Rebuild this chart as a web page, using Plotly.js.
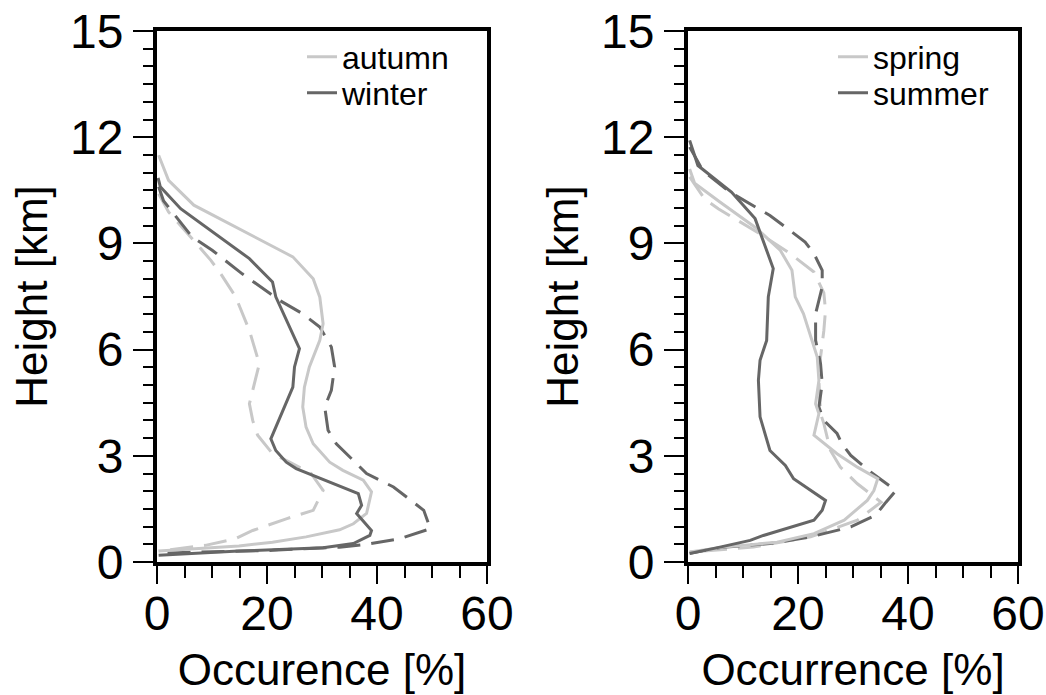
<!DOCTYPE html>
<html>
<head>
<meta charset="utf-8">
<script src="https://cdn.plot.ly/plotly-3.0.1.min.js"></script>
<style>
  html, body { margin: 0; padding: 0; background: #ffffff; }
  #chart { width: 1046px; height: 695px; }
</style>
</head>
<body>
<div id="chart"></div>
<script>
// ---------- Data ----------
// Left panel: autumn / winter ; solid and dashed profiles
const autumnSolidX = [0.3, 2.1, 6.7, 24.7, 28.4, 29.6, 30.2, 29.6, 27.7, 26.8, 26.5, 27.1, 28.4, 31.4, 33.8, 37.5, 39.0, 38.1, 35.7, 33.2, 27.1, 21.0, 14.9, 5.8, 0.3];
const autumnSolidH = [11.49, 10.78, 10.08, 8.62, 8.0, 7.48, 6.73, 6.26, 5.51, 4.94, 4.38, 3.81, 3.34, 2.82, 2.59, 2.31, 1.98, 1.37, 1.08, 0.91, 0.71, 0.56, 0.45, 0.35, 0.31];

const winterSolidX = [0.2, 0.6, 4.3, 16.8, 21.0, 21.6, 25.9, 25.0, 24.7, 20.7, 21.6, 23.5, 25.3, 28.4, 36.6, 37.2, 36.3, 39.0, 38.7, 35.7, 30.2, 14.9, 0.3];
const winterSolidH = [10.85, 10.6, 9.98, 8.57, 7.91, 7.49, 6.03, 5.51, 4.94, 3.48, 3.15, 2.82, 2.64, 2.45, 1.93, 1.60, 1.37, 0.89, 0.75, 0.52, 0.40, 0.31, 0.19];

const autumnDashX = [0.3, 2.1, 6.4, 9.8, 11.6, 14.3, 16.8, 18.6, 16.8, 17.4, 18.3, 21.0, 24.1, 28.0, 30.2, 28.4, 23.5, 17.4, 14.3, 8.8, 0.3];
const autumnDashH = [10.4, 9.89, 9.13, 8.52, 8.14, 7.49, 6.54, 5.6, 4.47, 4.0, 3.58, 3.06, 2.82, 2.5, 2.02, 1.46, 1.22, 0.89, 0.66, 0.47, 0.31];

const winterDashX = [0.3, 1.2, 6.4, 10.1, 15.5, 19.8, 22.3, 26.5, 29.6, 31.7, 32.3, 31.7, 30.5, 31.1, 32.6, 38.1, 43.0, 48.5, 49.7, 44.2, 38.1, 33.2, 21.0, 0.3];
const winterDashH = [10.6, 10.2, 9.18, 8.8, 8.14, 7.67, 7.39, 7.01, 6.64, 6.07, 5.51, 4.85, 4.38, 3.72, 3.34, 2.5, 2.12, 1.46, 0.94, 0.66, 0.5, 0.42, 0.33, 0.25];

// Right panel: spring / summer ; solid and dashed profiles
const springSolidX = [0.3, 1.2, 5.8, 12.5, 16.8, 18.9, 19.5, 21.0, 23.5, 23.8, 23.2, 23.8, 22.9, 27.1, 30.8, 34.5, 33.8, 32.6, 28.4, 22.9, 16.2, 6.4, 0.3];
const springSolidH = [11.1, 10.7, 10.17, 9.42, 8.8, 8.24, 7.49, 7.01, 5.79, 5.13, 4.47, 4.19, 3.58, 3.06, 2.68, 2.35, 2.02, 1.74, 1.18, 0.8, 0.56, 0.42, 0.28];

const summerSolidX = [0.3, 1.8, 7.9, 12.2, 15.5, 14.6, 14.3, 13.1, 12.8, 13.1, 14.9, 17.7, 19.2, 25.0, 24.4, 22.9, 13.7, 11.3, 5.8, 0.3];
const summerSolidH = [11.91, 11.2, 10.45, 9.7, 8.29, 7.49, 6.26, 5.70, 5.13, 4.10, 3.15, 2.73, 2.35, 1.74, 1.46, 1.18, 0.75, 0.61, 0.42, 0.24];

const springDashX = [0.3, 3.0, 5.5, 9.5, 13.1, 18.6, 22.9, 24.7, 25.0, 24.7, 24.1, 23.8, 24.1, 24.7, 25.9, 27.7, 30.8, 35.1, 30.8, 22.3, 11.9, 0.3];
const springDashH = [10.88, 10.26, 9.98, 9.6, 9.27, 8.71, 8.19, 7.6, 7.11, 6.54, 5.79, 5.13, 4.19, 3.91, 3.15, 2.68, 2.21, 1.69, 1.18, 0.71, 0.42, 0.28];

const summerDashX = [0.3, 2.7, 7.6, 14.9, 21.3, 22.9, 24.4, 24.4, 23.8, 23.2, 23.2, 24.1, 24.4, 23.8, 24.7, 27.1, 28.0, 29.6, 33.2, 37.8, 36.0, 34.1, 29.6, 22.3, 14.9, 6.4, 0.3];
const summerDashH = [11.72, 11.06, 10.45, 9.79, 9.04, 8.71, 8.24, 7.77, 7.39, 7.01, 6.26, 5.6, 5.04, 4.38, 4.0, 3.63, 3.34, 3.01, 2.54, 2.02, 1.69, 1.32, 0.99, 0.71, 0.52, 0.42, 0.25];

const xTickVals = [0, 20, 40, 60];
const yTickVals = [0, 3, 6, 9, 12, 15];
const leftXTitle = 'Occurence [%]';
const rightXTitle = 'Occurrence [%]';
const yTitle = 'Height [km]';

// ---------- Styles ----------
const LIGHT = '#c8c8c8';
const DARK = '#666666';
const LW = 3;
const DASH = '23px,11px';
const FONT = '"Liberation Sans", Arial, Helvetica, sans-serif';

function line(x, y, name, color, dash, xa, ya, legendName, show) {
  return {
    type: 'scatter', mode: 'lines', x: x, y: y, name: name,
    xaxis: xa, yaxis: ya, legend: legendName, showlegend: show,
    line: { color: color, width: LW, dash: dash },
    hoverinfo: 'skip'
  };
}

const traces = [
  line(autumnDashX, autumnDashH, 'autumn (dashed)', LIGHT, DASH, 'x', 'y', 'legend', false),
  line(winterDashX, winterDashH, 'winter (dashed)', DARK, DASH, 'x', 'y', 'legend', false),
  line(autumnSolidX, autumnSolidH, 'autumn', LIGHT, 'solid', 'x', 'y', 'legend', true),
  line(winterSolidX, winterSolidH, 'winter', DARK, 'solid', 'x', 'y', 'legend2', true),
  line(springDashX, springDashH, 'spring (dashed)', LIGHT, DASH, 'x2', 'y2', 'legend3', false),
  line(summerDashX, summerDashH, 'summer (dashed)', DARK, DASH, 'x2', 'y2', 'legend3', false),
  line(springSolidX, springSolidH, 'spring', LIGHT, 'solid', 'x2', 'y2', 'legend3', true),
  line(summerSolidX, summerSolidH, 'summer', DARK, 'solid', 'x2', 'y2', 'legend4', true)
];

const W = 1046, H = 695;
function px2x(p) { return p / W; }
function px2y(p) { return (H - p) / H; }

function xAxis(domain, title, anchor) {
  return {
    domain: domain, anchor: anchor, range: [0, 60], autorange: false,
    tickmode: 'array', tickvals: xTickVals, ticktext: xTickVals.map(String),
    ticks: 'outside', ticklen: 18, tickwidth: 2, tickcolor: '#000',
    ticklabelstandoff: -12,
    minor: { dtick: 5, tick0: 0, ticks: 'outside', ticklen: 12, tickwidth: 2, tickcolor: '#000', showgrid: false },
    showline: true, linewidth: 4, linecolor: '#000', mirror: true,
    showgrid: false, zeroline: false, fixedrange: true,
    tickfont: { family: FONT, size: 48, color: '#000' },
    title: { text: title, font: { family: FONT, size: 44, color: '#000' }, standoff: 17 },
    automargin: false
  };
}
function yAxis(domain, anchor) {
  return {
    domain: domain, anchor: anchor, range: [0, 15], autorange: false,
    tickmode: 'array', tickvals: yTickVals, ticktext: yTickVals.map(String),
    ticks: 'outside', ticklen: 20, tickwidth: 2, tickcolor: '#000',
    minor: { dtick: 0.5, tick0: 0, ticks: 'outside', ticklen: 10, tickwidth: 2, tickcolor: '#000', showgrid: false },
    showline: true, linewidth: 4, linecolor: '#000', mirror: true,
    showgrid: false, zeroline: false, fixedrange: true,
    tickfont: { family: FONT, size: 48, color: '#000' },
    title: { text: yTitle, font: { family: FONT, size: 44, color: '#000' }, standoff: 10 },
    automargin: false
  };
}

function legendAt(xpx, ypx) {
  return {
    x: px2x(xpx), y: px2y(ypx), xanchor: 'left', yanchor: 'middle',
    bgcolor: 'rgba(0,0,0,0)', borderwidth: 0,
    font: { family: FONT, size: 32, color: '#000' },
    tracegroupgap: 0, itemwidth: 30, traceorder: 'normal'
  };
}

const yDom = [px2y(562), px2y(31)];
const layout = {
  width: W, height: H,
  margin: { l: 0, r: 0, t: 0, b: 0 },
  paper_bgcolor: '#ffffff', plot_bgcolor: '#ffffff',
  font: { family: FONT, color: '#000' },
  showlegend: true,
  xaxis: xAxis([px2x(157), px2x(487)], leftXTitle, 'y'),
  yaxis: yAxis(yDom, 'x'),
  xaxis2: xAxis([px2x(688), px2x(1018)], rightXTitle, 'y2'),
  yaxis2: yAxis(yDom, 'x2'),
  legend: legendAt(302, 57),
  legend2: legendAt(302, 93),
  legend3: legendAt(833, 57),
  legend4: legendAt(833, 93)
};

Plotly.newPlot('chart', traces, layout, { staticPlot: true, displayModeBar: false });
</script>
</body>
</html>
